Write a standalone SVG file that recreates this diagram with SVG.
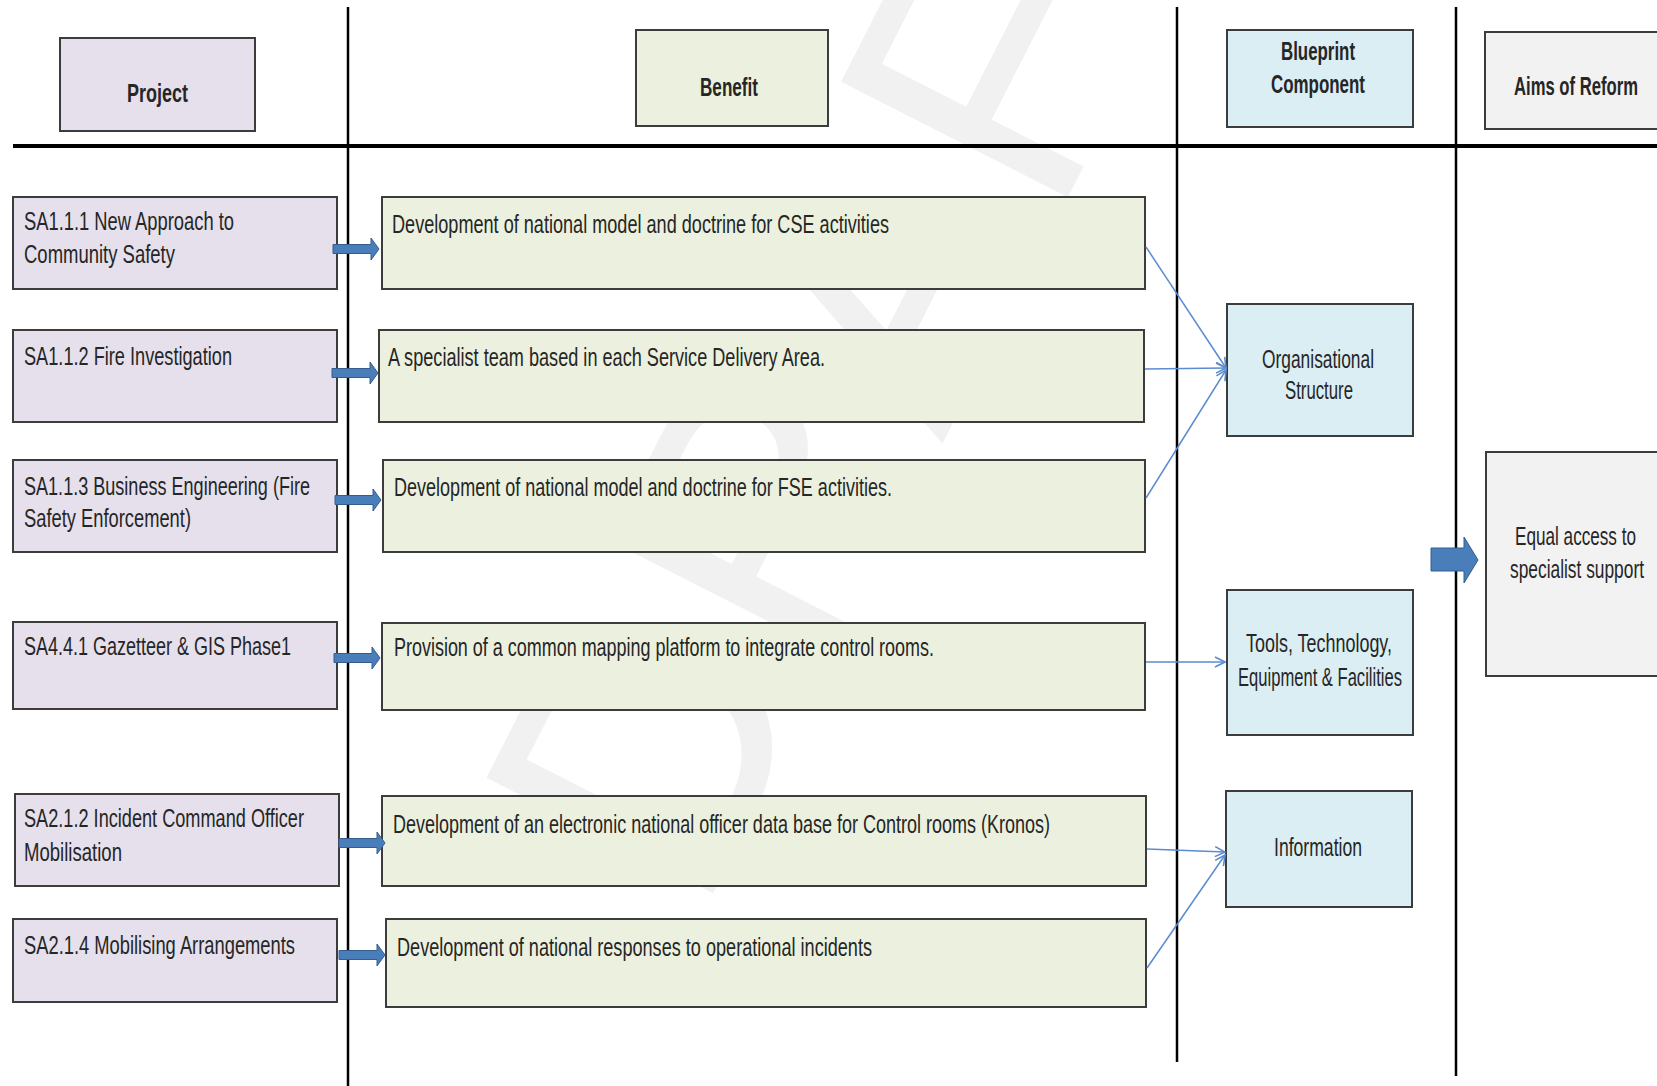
<svg xmlns="http://www.w3.org/2000/svg" xmlns:xlink="http://www.w3.org/1999/xlink" width="1657" height="1086" viewBox="0 0 1657 1086">
<style>
text{font-family:"Liberation Sans Narrow","Liberation Sans",Arial,sans-serif;font-size:25px;fill:#262626}
.hd{font-weight:bold}
.box{stroke:#3c3c3c;stroke-width:2}
.proj{fill:#E5E0EC}
.ben{fill:#EBF1DE}
.blue{fill:#DBEEF4}
.aim{fill:#F2F2F2}
.grid{stroke:#000;stroke-width:2.5;fill:none}
.con{stroke:#5B8BD0;stroke-width:1.5;fill:none;marker-end:url(#oa)}
.blk{fill:#4A7EBB;stroke:#345D8E;stroke-width:1}
.wm{font-family:"Liberation Sans",Arial,sans-serif;font-size:370px;fill:#F1F1F1}
</style>
<defs>
<marker id="oa" viewBox="0 0 12 12" refX="11" refY="6" markerWidth="12" markerHeight="12" markerUnits="userSpaceOnUse" orient="auto">
<path d="M1,1 L11,6 L1,11" fill="none" stroke="#5B8BD0" stroke-width="1.6"/>
</marker>
<path id="blkarrow" d="M0,-4.5 H38 V-11 L46,0 L38,11 V4.5 H0 Z"/>
</defs>
<rect width="1657" height="1086" fill="#fff"/>
<text class="wm" transform="translate(585,862) rotate(-63)" dominant-baseline="central">DRAFT</text>

<g id="grid">
<line class="grid" x1="13" y1="146" x2="1657" y2="146" style="stroke-width:4"/>
<line class="grid" x1="348" y1="7" x2="348" y2="1086"/>
<line class="grid" x1="1177" y1="7" x2="1177" y2="1062"/>
<line class="grid" x1="1456" y1="7" x2="1456" y2="1076"/>
</g>

<g id="hdr-project"><rect class="box proj" x="60" y="38" width="195" height="93"/><text class="hd" x="127" y="102" textLength="61" lengthAdjust="spacingAndGlyphs">Project</text></g>
<g id="hdr-benefit"><rect class="box ben" x="636" y="30" width="192" height="96"/><text class="hd" x="700" y="96" textLength="58" lengthAdjust="spacingAndGlyphs">Benefit</text></g>
<g id="hdr-blueprint"><rect class="box blue" x="1227" y="30" width="186" height="97"/><text class="hd" x="1281" y="60" textLength="74" lengthAdjust="spacingAndGlyphs">Blueprint</text><text class="hd" x="1271" y="93" textLength="94" lengthAdjust="spacingAndGlyphs">Component</text></g>
<g id="hdr-aims"><rect class="box aim" x="1485" y="32" width="190" height="97"/><text class="hd" x="1514" y="95" textLength="124" lengthAdjust="spacingAndGlyphs">Aims of Reform</text></g>

<g id="p1"><rect class="box proj" x="13" y="197" width="324" height="92"/><text x="24" y="230" textLength="210" lengthAdjust="spacingAndGlyphs">SA1.1.1 New Approach to</text><text x="24" y="263" textLength="151" lengthAdjust="spacingAndGlyphs">Community Safety</text></g>
<g id="p2"><rect class="box proj" x="13" y="330" width="324" height="92"/><text x="24" y="365" textLength="208" lengthAdjust="spacingAndGlyphs">SA1.1.2 Fire Investigation</text></g>
<g id="p3"><rect class="box proj" x="13" y="460" width="324" height="92"/><text x="24" y="495" textLength="286" lengthAdjust="spacingAndGlyphs">SA1.1.3 Business Engineering (Fire</text><text x="24" y="527" textLength="167" lengthAdjust="spacingAndGlyphs">Safety Enforcement)</text></g>
<g id="p4"><rect class="box proj" x="13" y="622" width="324" height="87"/><text x="24" y="655" textLength="267" lengthAdjust="spacingAndGlyphs">SA4.4.1 Gazetteer &amp; GIS Phase1</text></g>
<g id="p5"><rect class="box proj" x="15" y="794" width="324" height="92"/><text x="24" y="827" textLength="280" lengthAdjust="spacingAndGlyphs">SA2.1.2 Incident Command Officer</text><text x="24" y="861" textLength="98" lengthAdjust="spacingAndGlyphs">Mobilisation</text></g>
<g id="p6"><rect class="box proj" x="13" y="919" width="324" height="83"/><text x="24" y="954" textLength="271" lengthAdjust="spacingAndGlyphs">SA2.1.4 Mobilising Arrangements</text></g>

<g id="b1"><rect class="box ben" x="382" y="197" width="763" height="92"/><text x="392" y="233" textLength="497" lengthAdjust="spacingAndGlyphs">Development of national model and doctrine for CSE activities</text></g>
<g id="b2"><rect class="box ben" x="379" y="330" width="765" height="92"/><text x="388" y="366" textLength="437" lengthAdjust="spacingAndGlyphs">A specialist team based in each Service Delivery Area.</text></g>
<g id="b3"><rect class="box ben" x="383" y="460" width="762" height="92"/><text x="394" y="496" textLength="498" lengthAdjust="spacingAndGlyphs">Development of national model and doctrine for FSE activities.</text></g>
<g id="b4"><rect class="box ben" x="382" y="623" width="763" height="87"/><text x="394" y="656" textLength="540" lengthAdjust="spacingAndGlyphs">Provision of a common mapping platform to integrate control rooms.</text></g>
<g id="b5"><rect class="box ben" x="382" y="796" width="764" height="90"/><text x="393" y="833" textLength="657" lengthAdjust="spacingAndGlyphs">Development of an electronic national officer data base for Control rooms (Kronos)</text></g>
<g id="b6"><rect class="box ben" x="386" y="919" width="760" height="88"/><text x="397" y="956" textLength="475" lengthAdjust="spacingAndGlyphs">Development of national responses to operational incidents</text></g>

<g id="c-org"><rect class="box blue" x="1227" y="304" width="186" height="132"/><text x="1262" y="368" textLength="112" lengthAdjust="spacingAndGlyphs">Organisational</text><text x="1285" y="399" textLength="68" lengthAdjust="spacingAndGlyphs">Structure</text></g>
<g id="c-tools"><rect class="box blue" x="1227" y="590" width="186" height="145"/><text x="1246" y="652" textLength="146" lengthAdjust="spacingAndGlyphs">Tools, Technology,</text><text x="1238" y="686" textLength="164" lengthAdjust="spacingAndGlyphs">Equipment &amp; Facilities</text></g>
<g id="c-info"><rect class="box blue" x="1226" y="791" width="186" height="116"/><text x="1274" y="856" textLength="88" lengthAdjust="spacingAndGlyphs">Information</text></g>

<g id="aim-equal"><rect class="box aim" x="1486" y="452" width="190" height="224"/><text x="1515" y="545" textLength="121" lengthAdjust="spacingAndGlyphs">Equal access to</text><text x="1510" y="578" textLength="134" lengthAdjust="spacingAndGlyphs">specialist support</text></g>

<g id="connectors">
<use href="#blkarrow" class="blk" x="333" y="249"/>
<use href="#blkarrow" class="blk" x="332" y="373"/>
<use href="#blkarrow" class="blk" x="335" y="500"/>
<use href="#blkarrow" class="blk" x="334" y="658"/>
<use href="#blkarrow" class="blk" x="339" y="843"/>
<use href="#blkarrow" class="blk" x="339" y="955"/>
<path class="con" d="M1146,247 L1226,368"/>
<path class="con" d="M1145,369 L1226,368"/>
<path class="con" d="M1146,498 L1226,370"/>
<path class="con" d="M1146,662 L1225,662"/>
<path class="con" d="M1147,849 L1225,852"/>
<path class="con" d="M1147,968 L1225,855"/>
<path class="blk" d="M1431,548 H1464 V537 L1478,560 L1464,583 V571 H1431 Z"/>
</g>
</svg>
